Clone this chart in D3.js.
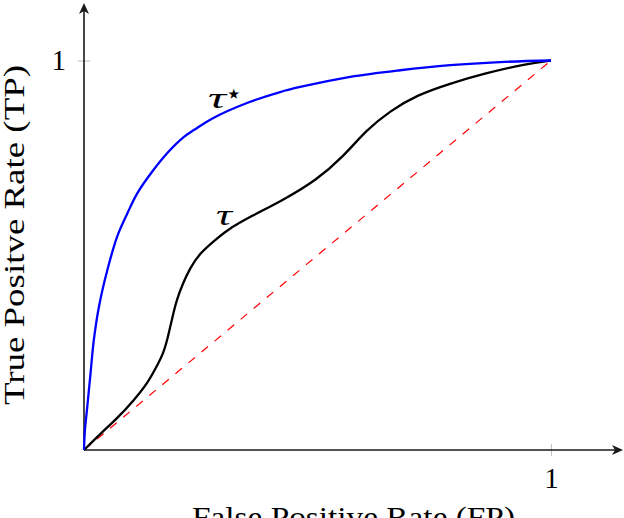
<!DOCTYPE html>
<html>
<head>
<meta charset="utf-8">
<script src="https://cdn.jsdelivr.net/npm/d3@7"></script>
<style>
  html, body { margin:0; padding:0; background:#fff; }
  svg { display:block; }
  text { font-family: "Liberation Serif", "DejaVu Serif", serif; fill:#000; }
</style>
</head>
<body>
<div id="chart"></div>
<script>
// ROC curves
const fprStar = [0, 0.002, 0.007, 0.014, 0.021, 0.032, 0.050, 0.071, 0.093, 0.114, 0.143, 0.178, 0.214, 0.236, 0.276, 0.349, 0.420, 0.463, 0.570, 0.677, 0.784, 0.891, 1];
const tprStar = [0, 0.051, 0.111, 0.197, 0.282, 0.368, 0.462, 0.548, 0.608, 0.659, 0.710, 0.762, 0.804, 0.822, 0.852, 0.891, 0.919, 0.932, 0.958, 0.975, 0.988, 0.996, 1];

const fprTau = [0, 0.036, 0.071, 0.107, 0.136, 0.157, 0.170, 0.180, 0.188, 0.198, 0.212, 0.227, 0.248, 0.277, 0.306, 0.356, 0.427, 0.498, 0.555, 0.605, 0.655, 0.712, 0.784, 0.855, 0.948, 1];
const tprTau = [0, 0.043, 0.081, 0.128, 0.171, 0.218, 0.248, 0.291, 0.334, 0.385, 0.428, 0.467, 0.505, 0.535, 0.565, 0.599, 0.642, 0.693, 0.753, 0.822, 0.870, 0.911, 0.941, 0.966, 0.992, 1];

const fprChance = [0, 1];
const tprChance = [0, 1];

const xTicks = [1];
const yTicks = [1];
const xTitle = "False Positive Rate (FP)";
const yTitle = "True Positve Rate (TP)";

const width = 624, height = 518;

const svg = d3.select("#chart").append("svg")
  .attr("width", width)
  .attr("height", height);

const x = d3.scaleLinear().domain([0, 1]).range([84, 551]);
const y = d3.scaleLinear().domain([0, 1]).range([450, 60.5]);

// ticks (light grey, centred on the axis lines)
const xAxis = svg.append("g")
  .attr("transform", "translate(0,444)")
  .call(d3.axisBottom(x).tickValues(xTicks).tickSize(12).tickPadding(11).tickFormat(d3.format("d")));
const yAxis = svg.append("g")
  .attr("transform", "translate(90,0)")
  .call(d3.axisLeft(y).tickValues(yTicks).tickSize(12).tickPadding(12).tickFormat(d3.format("d")));

[xAxis, yAxis].forEach(g => {
  g.select(".domain").remove();
  g.selectAll(".tick line").attr("stroke", "#c4c4c4").attr("stroke-width", 1.1);
  g.selectAll(".tick text")
    .attr("fill", "#000")
    .style("font-family", "'Liberation Serif', serif")
    .style("font-size", "29px");
});

// axis lines with arrow tips
const axisColor = "#1a1a1a";
svg.append("line")
  .attr("x1", x(0)).attr("y1", y(0)).attr("x2", 618).attr("y2", y(0))
  .attr("stroke", axisColor).attr("stroke-width", 1.6);
svg.append("line")
  .attr("x1", x(0)).attr("y1", y(0)).attr("x2", x(0)).attr("y2", 8)
  .attr("stroke", axisColor).attr("stroke-width", 1.6);

svg.append("path")
  .attr("d", `M623,${y(0)} L612,${y(0)-5} L615,${y(0)} L612,${y(0)+5} Z`)
  .attr("fill", axisColor);
svg.append("path")
  .attr("d", `M${x(0)},3 L${x(0)-5},14 L${x(0)},11 L${x(0)+5},14 Z`)
  .attr("fill", axisColor);

const lineStar = d3.line()
  .x(d => x(d[0]))
  .y(d => y(d[1]))
  .curve(d3.curveCatmullRom.alpha(0.5));

const lineTau = d3.line()
  .x(d => x(d[0]))
  .y(d => y(d[1]))
  .curve(d3.curveBasis);

// chance diagonal
svg.append("path")
  .datum(d3.zip(fprChance, tprChance))
  .attr("d", d3.line().x(d => x(d[0])).y(d => y(d[1])))
  .attr("fill", "none")
  .attr("stroke", "#ff0000")
  .attr("stroke-width", 1.2)
  .attr("stroke-dasharray", "8.5 8.5");

svg.append("path")
  .datum(d3.zip(fprTau, tprTau))
  .attr("d", lineTau)
  .attr("fill", "none")
  .attr("stroke", "#000")
  .attr("stroke-width", 2.3)
  .attr("stroke-linejoin", "round");

svg.append("path")
  .datum(d3.zip(fprStar, tprStar))
  .attr("d", lineStar)
  .attr("fill", "none")
  .attr("stroke", "#0000ff")
  .attr("stroke-width", 2.3)
  .attr("stroke-linejoin", "round");

// curve labels
svg.append("text")
  .attr("x", 208).attr("y", 108)
  .attr("textLength", 18).attr("lengthAdjust", "spacingAndGlyphs")
  .style("font-size", "29px").style("font-style", "italic")
  .text("τ");
svg.append("text")
  .attr("x", 225).attr("y", 103)
  .style("font-family", "'DejaVu Sans', sans-serif")
  .style("font-size", "28px")
  .text("⋆");

svg.append("text")
  .attr("x", 216).attr("y", 225)
  .attr("textLength", 16).attr("lengthAdjust", "spacingAndGlyphs")
  .style("font-size", "29px").style("font-style", "italic")
  .text("τ");

// axis titles
svg.append("text")
  .attr("x", 353.5).attr("y", 527)
  .attr("text-anchor", "middle")
  .attr("textLength", 323).attr("lengthAdjust", "spacingAndGlyphs")
  .style("font-size", "29px")
  .text(xTitle);

svg.append("text")
  .attr("transform", "translate(24,235) rotate(-90)")
  .attr("text-anchor", "middle")
  .attr("textLength", 340).attr("lengthAdjust", "spacingAndGlyphs")
  .style("font-size", "29px")
  .text(yTitle);
</script>
</body>
</html>
